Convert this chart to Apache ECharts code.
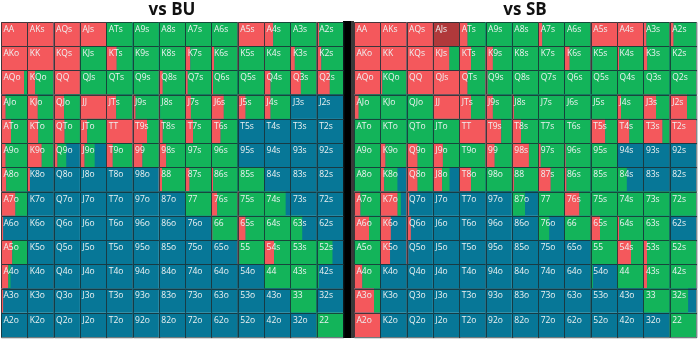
<!DOCTYPE html>
<html><head><meta charset="utf-8">
<script src="https://cdn.jsdelivr.net/npm/echarts@6/dist/echarts.min.js"></script>
<style>html,body{margin:0;padding:0;background:#fff}#c{width:700px;height:342px}</style>
</head><body><div id="c"></div>
<script>
const ranks = ['A','K','Q','J','T','9','8','7','6','5','4','3','2'];
const titles = ['vs BU', 'vs SB'];

// vs BU: raise and call frequencies per cell (rows x cols), fold = rest
const buRaise = [
  [1,1,1,1,0,0,0,0,0,1,.35,0,.1],
  [1,1,1,0,.4,0,0,.2,.1,.05,.03,.17,.18],
  [.88,.3,1,0,0,0,.15,.1,.06,0,.25,.4,.5],
  [.18,.4,.4,1,.38,.12,.05,.22,.47,.3,.25,0,0],
  [.38,.42,.42,.28,1,.55,.15,.3,.35,0,0,0,0],
  [.18,.55,.15,.18,.25,.38,.28,0,0,0,0,0,0],
  [.2,.1,0,0,0,0,.12,.17,.06,0,0,0,0],
  [.55,0,0,0,0,0,0,0,.22,.06,0,0,0],
  [.08,0,0,0,0,0,0,0,.04,.3,0,0,0],
  [.43,0,0,0,0,0,0,0,0,.06,.38,0,0],
  [.28,0,0,0,0,0,0,0,0,0,0,0,0],
  [.08,0,0,0,0,0,0,0,0,0,0,0,0],
  [0,0,0,0,0,0,0,0,0,0,0,0,0]
];
const buCall = [
  [0,0,0,0,1,1,1,1,1,0,.65,1,.9],
  [0,0,0,1,.6,1,1,.8,.9,.95,.97,.83,.82],
  [.12,.7,0,1,1,1,.85,.9,.94,1,.75,.6,.5],
  [.82,.6,.6,0,.62,.88,.95,.78,.53,.7,.75,0,0],
  [.62,.58,.58,.72,0,.45,.85,.7,.65,0,0,0,0],
  [.82,.45,.33,.38,.75,.62,.72,1,1,0,0,0,0],
  [.8,0,0,0,0,0,.88,.83,.94,1,0,0,0],
  [.45,0,0,0,0,0,0,1,.78,.94,.82,0,0],
  [0,0,0,0,0,0,0,0,.96,.7,1,.45,0],
  [.57,0,0,0,0,0,0,0,0,.94,.62,1,.6],
  [.08,0,0,0,0,0,0,0,0,0,1,1,.08],
  [0,0,0,0,0,0,0,0,0,0,0,1,0],
  [0,0,0,0,0,0,0,0,0,0,0,0,1]
];

// vs SB
const sbRaise = [
  [1,1,1,1,.32,0,0,.16,0,1,1,.12,.15],
  [1,1,1,.63,.45,.28,0,0,.2,.06,.08,.15,0],
  [1,.08,1,1,.32,.08,0,0,0,0,0,0,0],
  [.18,0,0,1,.45,.28,.08,0,0,0,.15,.48,.66],
  [0,0,0,0,1,.6,.35,0,0,.55,.47,.73,1],
  [0,.2,.42,.38,0,.35,.65,.1,.05,0,0,0,0],
  [0,.15,.42,.35,.45,0,.08,.48,.08,0,0,0,0],
  [.25,.66,.1,0,0,0,0,0,.57,0,0,0,0],
  [.57,.4,.16,0,0,0,0,0,0,.35,.08,0,0],
  [0,.37,.06,0,0,0,0,0,0,0,.53,.14,0],
  [.32,0,0,0,0,0,0,0,0,0,0,.14,0],
  [.76,0,0,0,0,0,0,0,0,0,0,0,0],
  [1,0,0,0,0,0,0,0,0,0,0,0,0]
];
const sbCall = [
  [0,0,0,0,.68,1,1,.84,1,0,0,.88,.85],
  [0,0,0,.37,.55,.72,1,1,.8,.94,.92,.85,1],
  [0,.92,0,0,.68,.92,1,1,1,1,1,1,1],
  [.82,1,1,0,.55,.72,.92,1,1,1,.85,.52,.34],
  [1,1,1,1,0,.4,.65,1,1,.45,.53,.27,0],
  [1,.8,.58,.62,1,.65,.35,.9,.95,1,0,0,0],
  [1,.5,.58,.28,.55,1,.92,.52,.92,1,.37,0,0],
  [.75,.12,0,0,0,0,.5,1,.43,1,1,1,1],
  [.43,0,0,0,0,0,0,.42,1,.65,.92,1,0],
  [1,0,0,0,0,0,0,0,0,1,.47,.86,1],
  [.68,0,0,0,0,0,0,0,0,.08,1,.86,1],
  [.24,0,0,0,0,0,0,0,0,0,0,1,.7],
  [0,0,0,0,0,0,0,0,0,0,0,0,1]
];
const sbHighlight = ['AJs'];

const RED = '#F4585C', GREEN = '#13B45A', BLUE = '#077797', DARKRED = '#B0393B';

function handLabel(i, j) {
  if (i === j) return ranks[i] + ranks[j];
  if (j > i) return ranks[i] + ranks[j] + 's';
  return ranks[j] + ranks[i] + 'o';
}
function buildData(raise, call) {
  const d = [];
  for (let i = 0; i < 13; i++) for (let j = 0; j < 13; j++)
    d.push([j, i, raise[i][j], call[i][j]]);
  return d;
}
function makeRender(highlight) {
  return function (params, api) {
    const col = api.value(0), row = api.value(1), r = api.value(2), c = api.value(3);
    const p = api.coord([col, row]);
    const s = api.size([1, 1]);
    const x0 = p[0] - s[0] / 2, y0 = p[1] - s[1] / 2, w = s[0], h = s[1];
    const label = handLabel(row, col);
    const redCol = highlight.indexOf(label) >= 0 ? DARKRED : RED;
    const children = [
      {type: 'rect', shape: {x: x0, y: y0, width: w, height: h}, style: {fill: BLUE}},
      {type: 'rect', shape: {x: x0, y: y0, width: w * r, height: h}, style: {fill: redCol}},
      {type: 'rect', shape: {x: x0 + w * r, y: y0, width: w * c, height: h}, style: {fill: GREEN}},
      {type: 'rect', shape: {x: Math.round(x0) + 0.5, y: Math.round(y0) + 0.5, width: w, height: h},
        style: {fill: 'none', stroke: 'rgba(25,45,50,0.8)', lineWidth: 1}},
      {type: 'text', style: {text: label, x: x0 + 2.5, y: y0 + 3, fill: '#eef2f2',
        font: '8.5px "Open Sans", sans-serif', align: 'left', verticalAlign: 'top'}}
    ];
    return {type: 'group', children: children};
  };
}

const chart = echarts.init(document.getElementById('c'), null, {renderer: 'canvas'});
const grids = [
  {left: 1, top: 22, width: 342, height: 315},
  {left: 354, top: 22, width: 342, height: 315}
];
chart.setOption({
  animation: false,
  grid: grids,
  xAxis: [0, 1].map(k => ({type: 'category', gridIndex: k, data: ranks, show: false})),
  yAxis: [0, 1].map(k => ({type: 'category', gridIndex: k, data: ranks, inverse: true, show: false})),
  graphic: [
    {type: 'rect', shape: {x: 343, y: 21, width: 8, height: 317}, style: {fill: '#000'}},
    {type: 'rect', shape: {x: 351, y: 21, width: 3, height: 317}, style: {fill: '#3a3a3a'}},
    {type: 'text', style: {text: titles[0], x: 172, y: 2, font: 'bold 17px "Open Sans", sans-serif', fill: '#111', align: 'center'}},
    {type: 'text', style: {text: titles[1], x: 525, y: 2, font: 'bold 17px "Open Sans", sans-serif', fill: '#111', align: 'center'}}
  ],
  series: [
    {type: 'custom', xAxisIndex: 0, yAxisIndex: 0, renderItem: makeRender([]), data: buildData(buRaise, buCall)},
    {type: 'custom', xAxisIndex: 1, yAxisIndex: 1, renderItem: makeRender(sbHighlight), data: buildData(sbRaise, sbCall)}
  ]
});
</script></body></html>
